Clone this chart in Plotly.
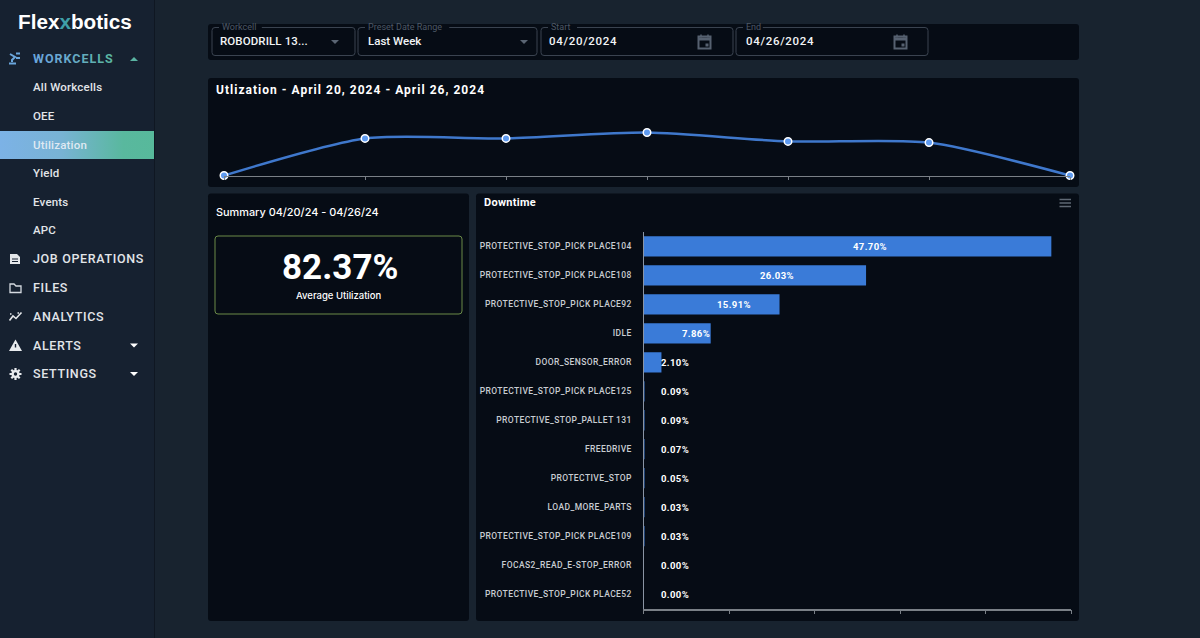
import plotly.graph_objects as go

# utilization per day
util_days = ['04/20', '04/21', '04/22', '04/23', '04/24', '04/25', '04/26']
util_values = [1, 82, 82, 95, 75.5, 73, 1]

# downtime reasons
reasons = ['PROTECTIVE_STOP_PICK PLACE104', 'PROTECTIVE_STOP_PICK PLACE108', 'PROTECTIVE_STOP_PICK PLACE92',
           'IDLE', 'DOOR_SENSOR_ERROR', 'PROTECTIVE_STOP_PICK PLACE125', 'PROTECTIVE_STOP_PALLET 131',
           'FREEDRIVE', 'PROTECTIVE_STOP', 'LOAD_MORE_PARTS', 'PROTECTIVE_STOP_PICK PLACE109',
           'FOCAS2_READ_E-STOP_ERROR', 'PROTECTIVE_STOP_PICK PLACE52']
downtime = [47.70, 26.03, 15.91, 7.86, 2.10, 0.09, 0.09, 0.07, 0.05, 0.03, 0.03, 0.00, 0.00]

menu_sub = ['All Workcells', 'OEE', 'Utilization', 'Yield', 'Events', 'APC']
menu_sub_y = [87, 116, 144.5, 173, 202, 230]
menu_main = ['JOB OPERATIONS', 'FILES', 'ANALYTICS', 'ALERTS', 'SETTINGS']
menu_main_y = [258.5, 287.5, 316, 345, 373.5]

PAGE = '#18232f'
SIDE = '#162130'
PANEL = '#060c15'
BORDER = '#3a4350'
MUTED = '#4d5866'
BLUE = '#3a7bd8'
W, H = 1200, 638

shapes = []
notes = []


def sp(txt, px):
    return f'<span style="letter-spacing:{px}px">{txt}</span>'


def rrect(x0, y0, x1, y1, r=3):
    return (f'M{x0+r},{y0} L{x1-r},{y0} Q{x1},{y0} {x1},{y0+r} L{x1},{y1-r} Q{x1},{y1} {x1-r},{y1} '
            f'L{x0+r},{y1} Q{x0},{y1} {x0},{y1-r} L{x0},{y0+r} Q{x0},{y0} {x0+r},{y0} Z')


def box(x0, y0, x1, y1, fill=PANEL, line=None, r=3, width=1):
    shapes.append(dict(type='path', path=rrect(x0, y0, x1, y1, r), xref='x', yref='y', layer='below',
                       fillcolor=fill, line=dict(color=line or 'rgba(0,0,0,0)', width=width)))


def path(d, fill=None, line=None, width=1.5):
    shapes.append(dict(type='path', path=d, xref='x', yref='y', layer='below',
                       fillcolor=fill or 'rgba(0,0,0,0)', line=dict(color=line or 'rgba(0,0,0,0)', width=width)))


def label(x, y, txt, size=12, color='#ffffff', anchor='left', family='Roboto', weight=400):
    notes.append(dict(x=x, y=y, xref='x', yref='y', text=txt, showarrow=False, xanchor=anchor, yanchor='middle',
                      borderpad=0, borderwidth=0,
                      font=dict(size=size, color=color, family=family, weight=weight)))


def field(x0, x1, title, value, pad=8, spacing=0):
    box(x0, 27.5, x1, 55.5, fill=PANEL, line=BORDER, r=3)
    # gap in the outline behind the small title
    shapes.append(dict(type='rect', x0=x0+7, x1=x0+13+len(title)*4.6, y0=26, y1=29, xref='x', yref='y',
                       layer='below', fillcolor=PANEL, line=dict(width=0)))
    label(x0+10, 26.5, title, size=9, color=MUTED)
    label(x0+pad, 41, sp(value, spacing), size=11.5, color='#f2f4f6', weight=500)


def caret(x, y, up=False, color='#ffffff', s=4):
    if up:
        path(f'M{x-s},{y+2} L{x+s},{y+2} L{x},{y-2} Z', fill=color)
    else:
        path(f'M{x-s},{y-2} L{x+s},{y-2} L{x},{y+2} Z', fill=color)


def calendar(x, y):
    path(f'M{x-6},{y-5} L{x+6},{y-5} L{x+6},{y+7} L{x-6},{y+7} Z', line='#566170', width=2)
    path(f'M{x-6},{y-4} L{x+6},{y-4} L{x+6},{y-1} L{x-6},{y-1} Z', fill='#566170')
    path(f'M{x+1},{y+2} L{x+4},{y+2} L{x+4},{y+5} L{x+1},{y+5} Z', fill='#566170')
    path(f'M{x-3.5},{y-7} L{x-3.5},{y-4} M{x+3.5},{y-7} L{x+3.5},{y-4}', line='#566170', width=1.5)


# page pieces
shapes.append(dict(type='rect', x0=0, x1=154, y0=0, y1=H, xref='x', yref='y', layer='below',
                   fillcolor=SIDE, line=dict(width=0)))
shapes.append(dict(type='line', x0=154.5, x1=154.5, y0=0, y1=H, xref='x', yref='y', layer='below',
                   line=dict(color='#0f1722', width=1)))
box(208, 24, 1079, 60)
box(208, 78, 1079, 187)
box(208, 193.5, 469, 621)
box(476, 193.5, 1079, 621)
box(215, 236, 462, 314, line='#6a8a48')

field(212, 355, 'Workcell', 'ROBODRILL 13...', spacing=0.1)
field(358, 537, 'Preset Date Range', 'Last Week', pad=10)
field(541, 733, 'Start', '04/20/2024', spacing=0.7)
field(736, 928, 'End', '04/26/2024', pad=10, spacing=0.7)
caret(335, 42, color='#5a6573')
caret(524, 42, color='#5a6573')
calendar(704.5, 41.5)
calendar(900.5, 41.5)

# sidebar
label(18, 21, 'Flex<span style="color:#3f9fa8">x</span>botics', size=20.7, family='Liberation Sans', weight=700)
workcells = ''.join(f'<span style="color:{c};letter-spacing:1px">{ch}</span>' for ch, c in zip(
    'WORKCELLS', ['#6aa6dc', '#6aa6d8', '#6aa8d2', '#68a9cc', '#66abc4', '#63adbc', '#60afb4', '#5db2aa', '#5ab4a2']))
label(33, 58.5, workcells, size=12.5, weight=700)
caret(134, 59, up=True, color='#5ab4a2')
for name, y in zip(menu_sub, menu_sub_y):
    label(33, y, sp(name, 0.2), size=11.5, color='#dfe9f2' if name == 'Utilization' else '#e2e5e9', weight=500)
for name, y in zip(menu_main, menu_main_y):
    label(33, y, sp(name, 0.65), size=12.5, color='#e2e5e9', weight=500)
caret(134, 345.5)
caret(134, 374)

# sidebar icons
path('M10,54 L15,57 L12,60 L12,62 M9,63.5 L16,63.5 M16,53.5 L20,53.5 M16,58 L20,58', line='#6aa6dc', width=2)
path('M10,254 L17,254 L20,257 L20,264 L10,264 Z', fill='#e4e7ea')
path('M12,259 L18,259 M12,261.5 L18,261.5', line=SIDE, width=1)
path('M10,284 L14,284 L16,286 L21,286 L21,292.5 L10,292.5 Z', line='#d5dae0', width=1.3)
path('M9.5,320.5 L13,316 L16,318.5 L21.5,312.5', line='#e4e7ea', width=1.6)
path('M10,314 L11.5,314 M17.5,313 L19,313', line='#e4e7ea', width=1.6)
path('M9,351 L22,351 L15.5,339.5 Z', fill='#e9ecef')
path('M15.5,344 L15.5,347.5', line=SIDE, width=1.4)
path('M15.5,368 L15.5,380 M9.5,374 L21.5,374 M11.3,369.8 L19.7,378.2 M19.7,369.8 L11.3,378.2', line='#e9ecef', width=2.2)
shapes.append(dict(type='circle', x0=11.5, x1=19.5, y0=370, y1=378, xref='x', yref='y', layer='below',
                   fillcolor='#e9ecef', line=dict(width=0)))
shapes.append(dict(type='circle', x0=13.8, x1=17.2, y0=372.3, y1=375.7, xref='x', yref='y', layer='below',
                   fillcolor=SIDE, line=dict(width=0)))

# panel titles
label(216, 89.5, sp('Utlization - April 20, 2024 - April 26, 2024', 1.02), size=12, weight=700)
label(216, 212, 'Summary 04/20/24 - 04/26/24', size=10.9, weight=500, family='Inter')
label(484, 202.5, sp('Downtime', 0.3), size=11, weight=700)
label(339.5, 267, '82.37%', size=35, anchor='center', weight=700)
label(338.5, 295, 'Average Utilization', size=9.5, anchor='center', family='Inter', weight=500)

# chart menu
path('M1059.5,199.5 L1071,199.5 M1059.5,203 L1071,203 M1059.5,206.5 L1071,206.5', line='#5f6874', width=1.3)

# bar labels
for name, v in zip(reasons, downtime):
    notes.append(dict(x=max(v/2 + 0.6, 2.05), y=name, xref='x3', yref='y3', text=sp(f'{v:.2f}%', 0.4), showarrow=False,
                      xanchor='left', yanchor='middle', borderpad=0, borderwidth=0,
                      font=dict(size=9.5, color='#ffffff', family='Roboto', weight=700)))

fig = go.Figure()

# highlighted menu row
fig.add_trace(go.Scatter(x=[0, 154, 154, 0, 0], y=[131, 131, 159, 159, 131], xaxis='x', yaxis='y', mode='lines',
                         fill='toself', line=dict(width=0), hoverinfo='skip', showlegend=False,
                         fillgradient=dict(type='horizontal',
                                           colorscale=[[0, '#7cb2e6'], [0.4, '#78b3d4'], [0.8, '#59b89e'], [1, '#57b99b']])))

fig.add_trace(go.Scatter(x=util_days, y=util_values, xaxis='x2', yaxis='y2', mode='lines+markers', cliponaxis=False,
                         line=dict(color='#3f78cc', width=2.5, shape='spline', smoothing=0.7),
                         marker=dict(size=7.5, color='#5f9bf0', line=dict(color='#ffffff', width=1.5)),
                         showlegend=False))

fig.add_trace(go.Bar(x=downtime, y=reasons, orientation='h', xaxis='x3', yaxis='y3', marker=dict(color=BLUE, line=dict(width=0)),
                     showlegend=False))

fig.update_layout(
    width=W, height=H, margin=dict(l=0, r=0, t=0, b=0), paper_bgcolor=PAGE, plot_bgcolor='rgba(0,0,0,0)',
    bargap=0.3, shapes=shapes, annotations=notes, showlegend=False,
    xaxis=dict(domain=[0, 1], range=[0, W], visible=False, fixedrange=True),
    yaxis=dict(domain=[0, 1], range=[H, 0], visible=False, fixedrange=True),
    xaxis2=dict(domain=[224/W, 1070/W], anchor='y2', type='category', range=[0, 6], showgrid=False, zeroline=False,
                showline=True, linecolor='#7a8087', linewidth=1.2, ticks='outside', ticklen=3, tickcolor='#7a8087',
                showticklabels=False),
    yaxis2=dict(domain=[(H-176)/H, (H-105)/H], anchor='x2', range=[0, 155], visible=False),
    xaxis3=dict(domain=[643.5/W, 1071/W], anchor='y3', range=[0, 50], dtick=10, showgrid=False, zeroline=False,
                showline=True, linecolor='#7a8087', linewidth=1.5, ticks='outside', ticklen=4, tickcolor='#7a8087',
                tickwidth=1.3, showticklabels=False),
    yaxis3=dict(domain=[(H-608.5)/H, (H-232)/H], anchor='x3', type='category', categoryorder='array',
                categoryarray=reasons, range=[12.5, -0.5], showgrid=False, zeroline=False, showline=True,
                linecolor='#8a94a3', linewidth=1, ticks='', ticklabelstandoff=9,
                tickmode='array', tickvals=reasons, ticktext=[sp(r, 0.41) for r in reasons],
                tickfont=dict(size=8.5, color='#c9cdd2', family='Roboto', weight=500)),
)

fig.write_html('out.html', config=dict(displayModeBar=False),
               post_script="document.body.style.margin='0';document.body.style.overflow='hidden';")
